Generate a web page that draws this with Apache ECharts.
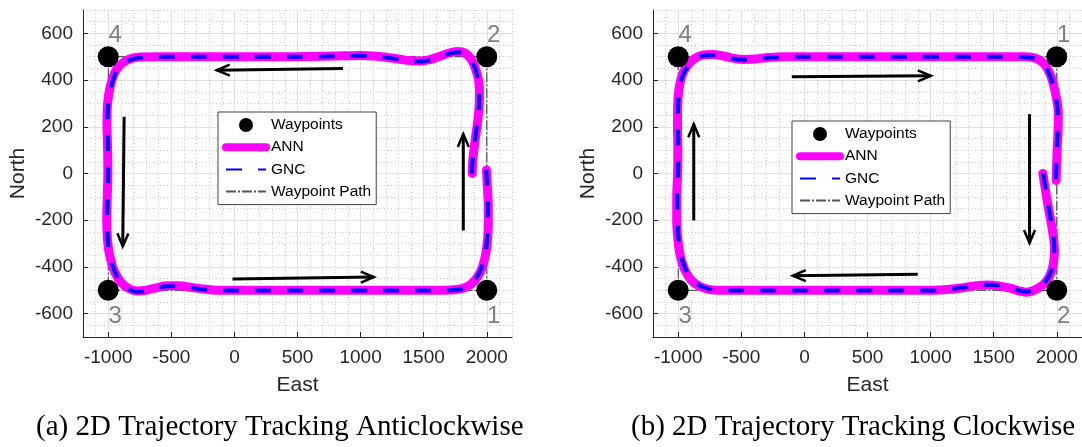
<!DOCTYPE html>
<html>
<head>
<meta charset="utf-8">
<script src="https://cdn.jsdelivr.net/npm/echarts@6/dist/echarts.min.js"></script>
<style>
  html, body { margin: 0; padding: 0; background: #fff; }
  #chart { width: 1082px; height: 447px; }
</style>
</head>
<body>
<div id="chart"></div>
<script>
// Axis ranges and tick labels (shared by both panels)
const xRange = [-1200, 2200];
const yRange = [-700, 700];
const xTicks = [-1000, -500, 0, 500, 1000, 1500, 2000];
const yTicks = [-600, -400, -200, 0, 200, 400, 600];

// Panel (a): anticlockwise run
const waypointsA = [[2000, -500, '1', 'below'], [2000, 500, '2', 'above'], [-1000, -500, '3', 'below'], [-1000, 500, '4', 'above']];
const pathA = [[2000, -500], [2000, 500], [-1000, 500], [-1000, -500], [2000, -500]];
const annA = [
  [1885, 0], [1890, 60], [1905, 130], [1925, 210], [1940, 290], [1942, 350], [1935, 400], [1910, 450],
  [1875, 490], [1830, 515], [1770, 522], [1700, 516], [1620, 500], [1550, 488], [1480, 482], [1400, 483],
  [1300, 490], [1200, 498], [1100, 503], [1000, 505], [800, 503], [600, 501], [400, 500], [200, 500],
  [0, 500], [-200, 500], [-400, 500], [-600, 500], [-750, 499], [-830, 490], [-900, 468], [-950, 430],
  [-985, 370], [-1005, 300], [-1010, 220], [-1005, 100], [-1003, 0], [-1008, -100], [-1012, -200],
  [-1005, -290], [-985, -360], [-950, -420], [-900, -465], [-840, -492], [-770, -503], [-700, -500],
  [-620, -490], [-530, -481], [-440, -481], [-340, -488], [-220, -496], [-100, -500], [100, -500],
  [400, -500], [700, -500], [1000, -500], [1300, -500], [1600, -500], [1740, -498], [1820, -490],
  [1880, -472], [1930, -440], [1965, -400], [1990, -350], [2005, -290], [2012, -220], [2012, -140],
  [2005, -60], [1998, 15]
];
const gncA = [
  [1882, 0], [1888, 60], [1903, 130], [1923, 210], [1938, 290], [1940, 350], [1932, 400], [1907, 450],
  [1872, 488], [1828, 512], [1770, 519], [1702, 513], [1622, 498], [1552, 486], [1480, 480], [1400, 481],
  [1300, 489], [1200, 497], [1100, 502], [1000, 504], [800, 502], [600, 500], [400, 500], [200, 500],
  [0, 500], [-200, 500], [-400, 500], [-600, 500], [-745, 497], [-825, 487], [-895, 464], [-945, 426],
  [-980, 368], [-1000, 300], [-1006, 220], [-1002, 100], [-1000, 0], [-1005, -100], [-1008, -200],
  [-1002, -290], [-982, -360], [-947, -422], [-897, -468], [-838, -496], [-768, -507], [-700, -503],
  [-622, -492], [-532, -483], [-442, -483], [-342, -490], [-222, -497], [-100, -501], [100, -501],
  [400, -501], [700, -501], [1000, -501], [1300, -501], [1600, -501], [1738, -499], [1818, -491],
  [1877, -472], [1926, -440], [1961, -400], [1986, -350], [2001, -290], [2008, -220], [2009, -140],
  [2003, -60], [1996, 15]
];
const arrowsA = [[860, 450, -140, 442], [-874, 243, -885, -312], [-15, -452, 1105, -443], [1814, -244, 1814, 169]];

// Panel (b): clockwise run
const waypointsB = [[2000, 500, '1', 'above'], [2000, -500, '2', 'below'], [-1000, -500, '3', 'below'], [-1000, 500, '4', 'above']];
const pathB = [[2000, 500], [2000, -500], [-1000, -500], [-1000, 500], [2000, 500]];
const annB = [
  [1890, 0], [1910, -70], [1930, -135], [1955, -210], [1975, -278], [1982, -330], [1975, -380],
  [1957, -421], [1920, -460], [1877, -482], [1820, -500], [1758, -508], [1700, -503], [1630, -491],
  [1540, -481], [1450, -477], [1360, -480], [1260, -489], [1150, -496], [1000, -500], [800, -500],
  [500, -500], [200, -500], [-100, -500], [-400, -500], [-650, -500], [-760, -496], [-840, -480],
  [-900, -455], [-950, -410], [-985, -350], [-1003, -280], [-1012, -200], [-1012, -100], [-1005, 0],
  [-1003, 100], [-1006, 200], [-1005, 280], [-995, 360], [-970, 420], [-930, 460], [-870, 492],
  [-800, 508], [-730, 510], [-650, 504], [-570, 494], [-480, 488], [-400, 490], [-300, 496],
  [-150, 500], [100, 500], [400, 500], [700, 500], [1000, 500], [1300, 500], [1600, 500], [1750, 500],
  [1830, 494], [1890, 475], [1935, 440], [1970, 390], [1995, 330], [2012, 260], [2010, 180],
  [2003, 100], [1998, 20], [1995, -30]
];
const gncB = [
  [1893, 0], [1912, -70], [1932, -135], [1957, -210], [1976, -278], [1980, -330], [1972, -380],
  [1953, -421], [1916, -458], [1873, -480], [1818, -498], [1758, -506], [1702, -501], [1632, -489],
  [1542, -479], [1452, -476], [1362, -479], [1262, -488], [1152, -496], [1000, -501], [800, -501],
  [500, -501], [200, -501], [-100, -501], [-400, -501], [-650, -500], [-757, -494], [-836, -477],
  [-895, -451], [-945, -406], [-980, -347], [-998, -278], [-1007, -200], [-1008, -100], [-1001, 0],
  [-999, 100], [-1002, 200], [-1001, 280], [-991, 358], [-966, 418], [-926, 457], [-867, 489],
  [-798, 505], [-730, 507], [-652, 502], [-572, 492], [-482, 487], [-402, 489], [-302, 495],
  [-150, 499], [100, 500], [400, 500], [700, 500], [1000, 500], [1300, 500], [1600, 500], [1748, 499],
  [1827, 492], [1886, 473], [1931, 438], [1966, 388], [1991, 329], [2008, 260], [2007, 180],
  [2001, 100], [1996, 20], [1993, -30]
];
const arrowsB = [[-100, 414, 1002, 418], [1784, 254, 1784, -298], [898, -431, -92, -438], [-877, -201, -877, 211]];

const SANS = 'Liberation Sans';
const AXIS_COLOR = '#262626';
const grids = [
  { left: 83, top: 10, width: 429, height: 327 },
  { left: 653, top: 10, width: 429, height: 327 }
];

function minorAxis(dim, gridIndex) {
  const isX = dim === 'x';
  return {
    type: 'value', gridIndex,
    min: isX ? xRange[0] : yRange[0], max: isX ? xRange[1] : yRange[1],
    interval: isX ? 100 : 50,
    position: isX ? 'top' : 'right',
    axisLine: { show: false }, axisTick: { show: false }, axisLabel: { show: false },
    splitLine: { show: true, lineStyle: { color: '#c9c9c9', width: 1, type: [1, 2.5] } }
  };
}

function majorAxis(dim, gridIndex) {
  const isX = dim === 'x';
  const ticks = isX ? xTicks : yTicks;
  return {
    type: 'value', gridIndex,
    min: isX ? xRange[0] : yRange[0], max: isX ? xRange[1] : yRange[1],
    position: isX ? 'bottom' : 'left',
    name: isX ? 'East' : 'North',
    nameLocation: 'middle',
    nameGap: isX ? 38 : 54,
    nameTextStyle: { fontFamily: SANS, fontSize: 21, color: AXIS_COLOR },
    axisLine: { show: true, onZero: false, lineStyle: { color: AXIS_COLOR, width: 1 } },
    axisTick: { show: true, inside: true, length: 5, customValues: ticks, lineStyle: { color: AXIS_COLOR } },
    axisLabel: {
      customValues: ticks, fontFamily: SANS, fontSize: 19, color: AXIS_COLOR,
      margin: isX ? 11 : 10,
      formatter: v => String(v)
    },
    splitLine: { show: true, lineStyle: { color: '#e1e1e1', width: 1 } }
  };
}

function arrowRenderer(params, api) {
  const p0 = api.coord([api.value(0), api.value(1)]);
  const p1 = api.coord([api.value(2), api.value(3)]);
  const dx = p1[0] - p0[0], dy = p1[1] - p0[1];
  const len = Math.hypot(dx, dy) || 1;
  const ux = dx / len, uy = dy / len;
  const hl = 13, hw = 5.5;
  const bx = p1[0] - ux * hl, by = p1[1] - uy * hl;
  return {
    type: 'group',
    children: [
      { type: 'line', shape: { x1: p0[0], y1: p0[1], x2: p1[0], y2: p1[1] }, style: { stroke: '#000', lineWidth: 3 } },
      { type: 'polyline', shape: { points: [[bx - uy * hw, by + ux * hw], [p1[0], p1[1]], [bx + uy * hw, by - ux * hw]] },
        style: { stroke: '#000', lineWidth: 2.5, fill: null } }
    ]
  };
}

function panelSeries(k, waypoints, path, ann, gnc, arrows) {
  const xi = 2 * k + 1, yi = 2 * k + 1;
  return [
    {
      name: 'Waypoint Path', type: 'line', xAxisIndex: xi, yAxisIndex: yi, data: path,
      symbol: 'none', z: 2, lineStyle: { color: '#333', width: 1, type: [10, 2, 2, 2] }
    },
    {
      name: 'ANN', type: 'line', xAxisIndex: xi, yAxisIndex: yi, data: ann, smooth: 0.35,
      symbol: 'none', z: 3, lineStyle: { color: '#ff00ff', width: 9, cap: 'round', join: 'round' }
    },
    {
      name: 'GNC', type: 'line', xAxisIndex: xi, yAxisIndex: yi, data: gnc, smooth: 0.35,
      symbol: 'none', z: 4, lineStyle: { color: '#0000ff', width: 4, type: [16, 16] }
    },
    {
      name: 'Waypoints', type: 'scatter', xAxisIndex: xi, yAxisIndex: yi, z: 5,
      symbol: 'circle', symbolSize: 21, itemStyle: { color: '#000', opacity: 1 },
      data: waypoints.map(w => ({
        value: [w[0], w[1]],
        label: {
          show: true, position: 'inside', formatter: w[2],
          offset: w[3] === 'above' ? [7, -21] : [7, 26],
          fontFamily: SANS, fontSize: 24, color: '#808080'
        }
      }))
    },
    {
      name: 'arrows', type: 'custom', xAxisIndex: xi, yAxisIndex: yi, z: 6,
      data: arrows, encode: { x: [0, 2], y: [1, 3] }, renderItem: arrowRenderer
    }
  ];
}

function legendAt(left, top) {
  return {
    orient: 'vertical', left, top, selectedMode: false,
    itemWidth: 40, itemHeight: 14, itemGap: 6.2,
    padding: [5, 5, 5, 4],
    backgroundColor: '#fff', borderColor: '#404040', borderWidth: 1, borderRadius: 0,
    textStyle: { fontFamily: SANS, fontSize: 15.5, color: '#000' },
    data: [
      { name: 'Waypoints', itemStyle: { color: '#000', opacity: 1 } },
      { name: 'ANN', itemStyle: { opacity: 0 }, lineStyle: { width: 8 } },
      { name: 'GNC', itemStyle: { opacity: 0 } },
      { name: 'Waypoint Path', itemStyle: { opacity: 0 }, lineStyle: { color: '#555' } }
    ]
  };
}

const chart = echarts.init(document.getElementById('chart'), null, { renderer: 'canvas' });
chart.setOption({
  animation: false,
  backgroundColor: '#fff',
  grid: grids,
  xAxis: [minorAxis('x', 0), majorAxis('x', 0), minorAxis('x', 1), majorAxis('x', 1)],
  yAxis: [minorAxis('y', 0), majorAxis('y', 0), minorAxis('y', 1), majorAxis('y', 1)],
  legend: [legendAt(218, 112), legendAt(792, 121)],
  series: [
    ...panelSeries(0, waypointsA, pathA, annA, gncA, arrowsA),
    ...panelSeries(1, waypointsB, pathB, annB, gncB, arrowsB)
  ],
  graphic: [
    { type: 'text', left: 36, top: 413, style: { text: '(a) 2D Trajectory Tracking Anticlockwise', font: '29px "Liberation Serif"', fill: '#000' } },
    { type: 'text', left: 631, top: 413, style: { text: '(b) 2D Trajectory Tracking Clockwise', font: '29px "Liberation Serif"', fill: '#000' } }
  ]
});
</script>
</body>
</html>
